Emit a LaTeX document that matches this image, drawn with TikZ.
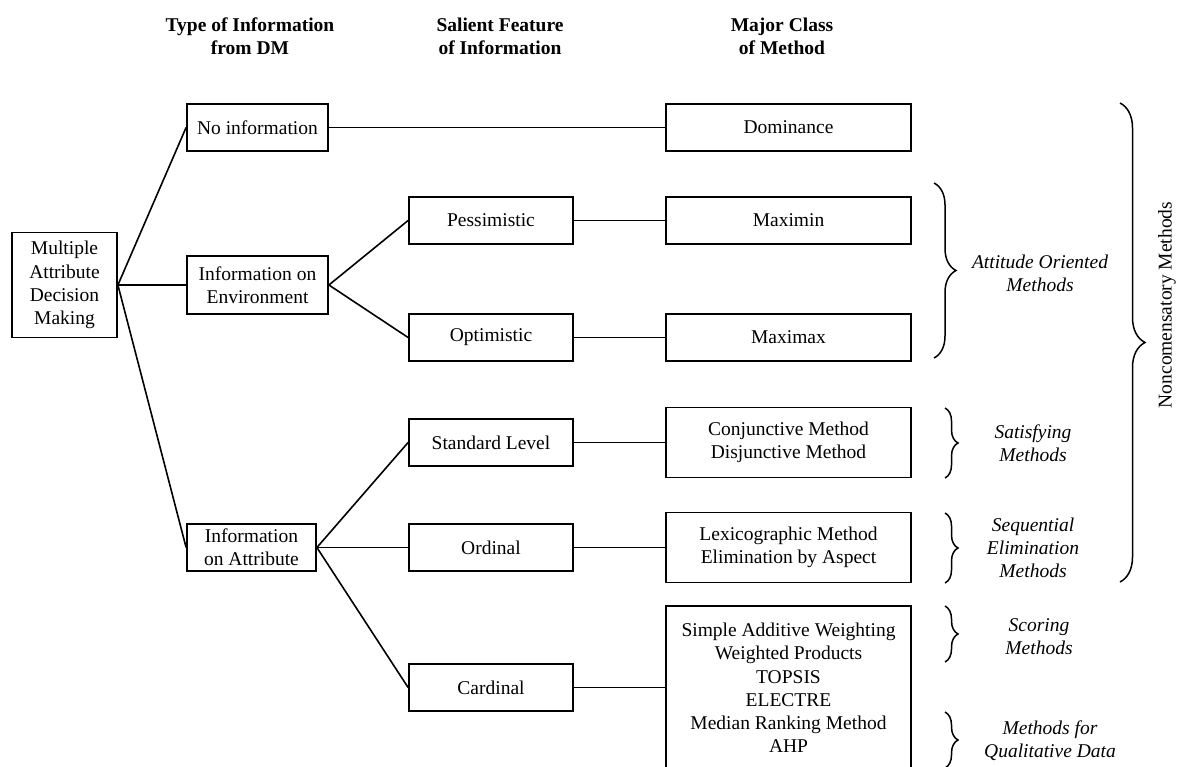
\documentclass[tikz,border=0pt]{standalone}
\usepackage{fontspec}
\setmainfont{Liberation Serif}
\usetikzlibrary{decorations.pathreplacing}
\begin{document}
\begin{tikzpicture}[x=1pt,y=-1pt,
  every node/.style={font=\fontsize{19.5}{23.2}\selectfont, align=center, inner sep=0pt},
  box/.style={draw, line width=1.8pt, rectangle, minimum height=47pt},
  featbox/.style={box, minimum width=164pt},
  methodbox/.style={box, minimum width=245pt},
  link/.style={line width=1.6pt},
  head/.style={font=\fontsize{19.5}{23.2}\selectfont\bfseries},
  grp/.style={font=\fontsize{19.5}{23.2}\selectfont\itshape},
  curly/.style={decorate, decoration={brace, amplitude=#1}, line width=1.5pt},
]
\clip (0,0) rectangle (1177,767);

% column headings
\node[head] (h1) at (250,36) {Type of Information\\from DM};
\node[head] (h2) at (500,36) {Salient Feature\\of Information};
\node[head] (h3) at (782,36) {Major Class\\of Method};

% root
\node[box, minimum width=105pt, minimum height=105pt] (madm) at (64.5,285) {Multiple\\Attribute\\Decision\\Making};

% type of information
\node[box, minimum width=141pt] (noinfo) at (257.5,127.5) {No information};
\node[box, minimum width=141pt, minimum height=58pt] (env) at (257.5,285) {Information on\\Environment};
\node[box, minimum width=129pt] (attr) at (251.5,547.5) {Information\\on Attribute};

% salient features
\node[featbox] (pess) at (491,220.5) {Pessimistic};
\node[featbox] (opt) at (491,337.5) {Optimistic};
\node[featbox] (std) at (491,442.5) {Standard Level};
\node[featbox] (ord) at (491,547.5) {Ordinal};
\node[featbox] (card) at (491,687.5) {Cardinal};

% method classes
\node[methodbox] (dom) at (788.5,127.5) {Dominance};
\node[methodbox] (maximin) at (788.5,220.5) {Maximin};
\node[methodbox] (maximax) at (788.5,337.5) {Maximax};
\node[methodbox, minimum height=70pt] (conj) at (788.5,442.5) {Conjunctive Method\\Disjunctive Method};
\node[methodbox, minimum height=70pt] (lex) at (788.5,547.5) {Lexicographic Method\\Elimination by Aspect};
\node[methodbox, minimum height=164pt] (saw) at (788.5,688) {Simple Additive Weighting\\Weighted Products\\TOPSIS\\ELECTRE\\Median Ranking Method\\AHP};

% tree connectors
\draw[link] (madm.east) -- (noinfo.west);
\draw[link] (madm.east) -- (env.west);
\draw[link] (madm.east) -- (attr.west);
\draw[link] (env.east) -- (pess.west);
\draw[link] (env.east) -- (opt.west);
\draw[link] (attr.east) -- (std.west);
\draw[link] (attr.east) -- (ord.west);
\draw[link] (attr.east) -- (card.west);
\draw[link] (noinfo.east) -- (dom.west);
\draw[link] (pess.east) -- (maximin.west);
\draw[link] (opt.east) -- (maximax.west);
\draw[link] (std.east) -- (conj.west);
\draw[link] (ord.east) -- (lex.west);
\draw[link] (card.east) -- (card.east -| saw.west);

% group braces and labels
\draw[curly=22pt] (934,183) -- (934,358);
\node[grp] (attitude) at (1040,273) {Attitude Oriented\\Methods};
\draw[curly=13pt] (945,408) -- (945,478);
\node[grp] (satisf) at (1033,443) {Satisfying\\Methods};
\draw[curly=13pt] (945,513) -- (945,583);
\node[grp] (seq) at (1033,548) {Sequential\\Elimination\\Methods};
\draw[curly=13pt] (945,606) -- (945,662);
\node[grp] (scoring) at (1039,637) {Scoring\\Methods};
\draw[curly=13pt] (945,712) -- (945,768);
\node[grp] (qual) at (1050,741) {Methods for\\Qualitative Data};

\draw[curly=25pt] (1120,103) -- (1120,582);
\node[rotate=90] (noncomp) at (1167,305) {Noncomensatory Methods};
\end{tikzpicture}
\end{document}
